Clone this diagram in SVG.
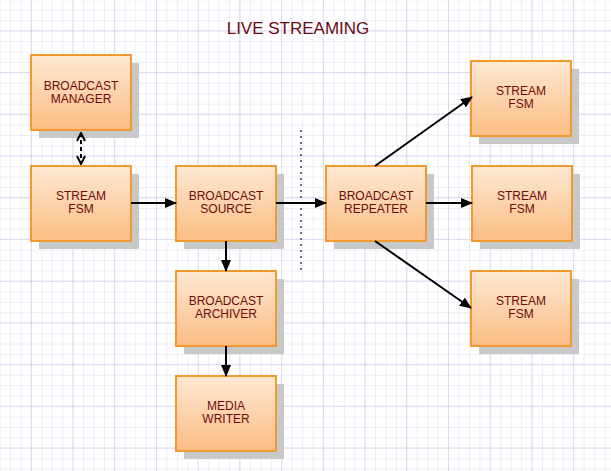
<svg xmlns="http://www.w3.org/2000/svg" width="611" height="471" viewBox="0 0 611 471">
<defs>
<pattern id="minor" patternUnits="userSpaceOnUse" x="0.6" y="0.3" width="10.43" height="10.43">
<path d="M10.43 0V10.43M0 10.43H10.43" fill="none" stroke="#dcdcf2" stroke-width="1"/>
</pattern>
<pattern id="major" patternUnits="userSpaceOnUse" x="-10" y="-10.5" width="41.72" height="41.72">
<path d="M41.72 0V41.72M0 41.72H41.72" fill="none" stroke="#c4c4e8" stroke-width="1"/>
</pattern>
<linearGradient id="fill" x1="0" y1="0" x2="0" y2="1">
<stop offset="0" stop-color="#fee8d2"/>
<stop offset="1" stop-color="#fbbd84"/>
</linearGradient>
<marker id="ah" markerWidth="12" markerHeight="10" refX="11" refY="5" orient="auto" markerUnits="userSpaceOnUse">
<path d="M0 0L12 5L0 10z" fill="#000"/>
</marker>
<marker id="oh" markerWidth="10" markerHeight="10" refX="9" refY="5" orient="auto-start-reverse" markerUnits="userSpaceOnUse">
<path d="M1 1L9 5L1 9" fill="none" stroke="#000" stroke-width="2"/>
</marker>
</defs>
<style>
.shadow{fill:#c8c8c8}
.box{fill:url(#fill);stroke:#f19a2e;stroke-width:2}
.lbl{font-family:"Liberation Sans",Arial,sans-serif;font-size:12px;fill:#6e0b0b;text-anchor:middle}
.title{font-family:"Liberation Sans",Arial,sans-serif;font-size:17px;fill:#6b0a16;text-anchor:middle}
.con{stroke:#000;stroke-width:2;fill:none}
</style>
<rect width="611" height="471" fill="#ffffff"/>
<rect width="611" height="471" fill="url(#minor)"/>
<rect width="611" height="471" fill="url(#major)"/>
<text class="title" x="298" y="34">LIVE STREAMING</text>
<line x1="301" y1="130" x2="301" y2="273" stroke="#6e6e80" stroke-width="2" stroke-dasharray="2 4"/>
<g id="manager"><rect class="shadow" x="39" y="63" width="100" height="75"/><rect class="box" x="31" y="55" width="100" height="75"/><text class="lbl" x="81" y="90">BROADCAST</text><text class="lbl" x="81" y="103">MANAGER</text></g>
<g id="fsm-left"><rect class="shadow" x="39" y="174" width="100" height="75"/><rect class="box" x="31" y="166" width="100" height="75"/><text class="lbl" x="81" y="200">STREAM</text><text class="lbl" x="81" y="213">FSM</text></g>
<g id="source"><rect class="shadow" x="184" y="174" width="100" height="75"/><rect class="box" x="176" y="166" width="100" height="75"/><text class="lbl" x="226" y="200">BROADCAST</text><text class="lbl" x="226" y="213">SOURCE</text></g>
<g id="repeater"><rect class="shadow" x="334" y="174" width="100" height="75"/><rect class="box" x="326" y="166" width="100" height="75"/><text class="lbl" x="376" y="200">BROADCAST</text><text class="lbl" x="376" y="213">REPEATER</text></g>
<g id="fsm-r1"><rect class="shadow" x="479" y="69" width="100" height="75"/><rect class="box" x="471" y="61" width="100" height="75"/><text class="lbl" x="521" y="95">STREAM</text><text class="lbl" x="521" y="108">FSM</text></g>
<g id="fsm-r2"><rect class="shadow" x="480" y="174" width="100" height="75"/><rect class="box" x="472" y="166" width="100" height="75"/><text class="lbl" x="522" y="200">STREAM</text><text class="lbl" x="522" y="213">FSM</text></g>
<g id="fsm-r3"><rect class="shadow" x="479" y="279" width="100" height="75"/><rect class="box" x="471" y="271" width="100" height="75"/><text class="lbl" x="521" y="305">STREAM</text><text class="lbl" x="521" y="318">FSM</text></g>
<g id="archiver"><rect class="shadow" x="184" y="279" width="100" height="75"/><rect class="box" x="176" y="271" width="100" height="75"/><text class="lbl" x="226" y="305">BROADCAST</text><text class="lbl" x="226" y="318">ARCHIVER</text></g>
<g id="writer"><rect class="shadow" x="184" y="384" width="100" height="75"/><rect class="box" x="176" y="376" width="100" height="75"/><text class="lbl" x="226" y="410">MEDIA</text><text class="lbl" x="226" y="423">WRITER</text></g>
<g id="connectors">
<line class="con" x1="81" y1="133" x2="81" y2="164" stroke-dasharray="4 3" marker-start="url(#oh)" marker-end="url(#oh)"/>
<line class="con" x1="131" y1="203" x2="176" y2="203" marker-end="url(#ah)"/>
<line class="con" x1="276" y1="203" x2="326" y2="203" marker-end="url(#ah)"/>
<line class="con" x1="226" y1="241" x2="226" y2="271" marker-end="url(#ah)"/>
<line class="con" x1="226" y1="346" x2="226" y2="376" marker-end="url(#ah)"/>
<line class="con" x1="426" y1="203" x2="472" y2="203" marker-end="url(#ah)"/>
<line class="con" x1="375" y1="166" x2="472" y2="97" marker-end="url(#ah)"/>
<line class="con" x1="375" y1="241" x2="471" y2="308" marker-end="url(#ah)"/>
</g>
</svg>
